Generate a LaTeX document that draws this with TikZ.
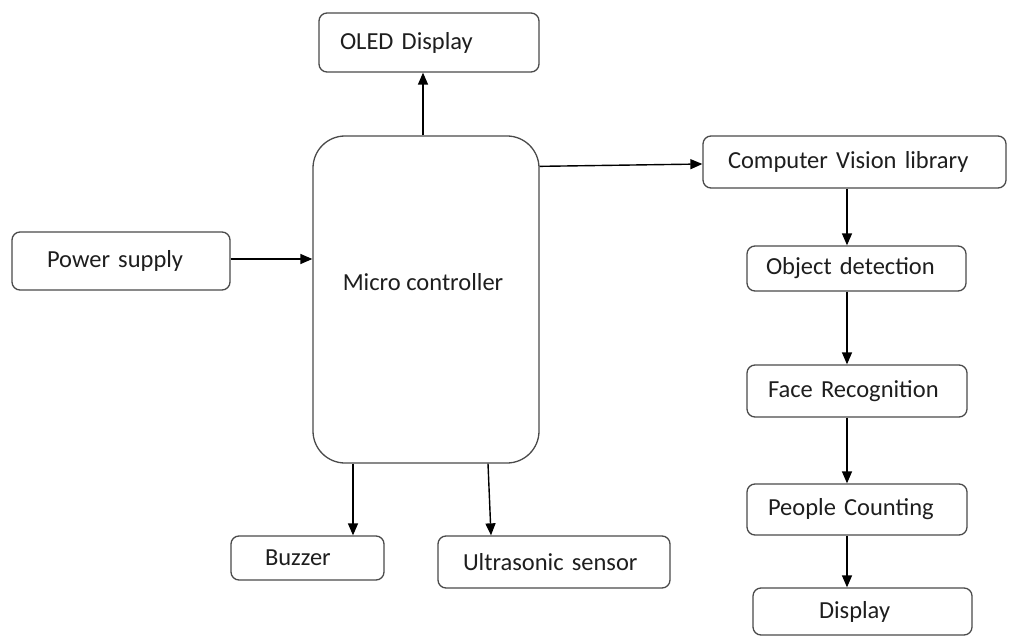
\documentclass[tikz,border=0pt]{standalone}
\usepackage{fontspec}
\setmainfont{Carlito}
\usetikzlibrary{arrows.meta}
\definecolor{boxline}{HTML}{4A4A4A}
\definecolor{txt}{HTML}{1E1E1E}
\begin{document}
\begin{tikzpicture}[x=1pt,y=-1pt,
  box/.style={draw=boxline, line width=1.3pt, rounded corners=8pt, fill=white,
    text=txt, font=\fontsize{24.5}{28}\selectfont, align=left, inner ysep=0pt, anchor=center},
  arr/.style={draw=black, line width=1.4pt, -{Triangle[length=12pt,width=10pt]}}]
\useasboundingbox (0,0) rectangle (1011,636);
\fill[white] (0,0) rectangle (1011,636);
% boxes
\node[box, minimum height=59pt, text width=178pt, inner xsep=21pt] (oled) at (429,42.5) {OLED Display};
\node[box, minimum height=58pt, text width=148pt, inner xsep=35pt] (power) at (121,261) {Power supply};
\node[box, rounded corners=32pt, minimum width=226pt, minimum height=327pt, inner sep=0pt,
  label={[text=txt, font=\fontsize{24.5}{28}\selectfont, xshift=-3pt, yshift=17pt]center:Micro controller}] (micro) at (426,299.5) {};
\node[box, minimum height=52pt, text width=253pt, inner xsep=25pt] (cv) at (854.5,162) {Computer Vision library};
\node[box, minimum height=45pt, text width=181pt, inner xsep=19pt] (od) at (856.5,268.5) {Object detection};
\node[box, minimum height=52pt, text width=178pt, inner xsep=21pt] (fr) at (857,391) {Face Recognition};
\node[box, minimum height=51pt, text width=178pt, inner xsep=21pt] (pc) at (857,509.5) {People Counting};
\node[box, minimum height=47pt, text width=87pt, inner xsep=66pt] (disp) at (862.5,611.5) {Display};
\node[box, minimum height=44pt, text width=85pt, inner xsep=34pt] (buzzer) at (307.5,558) {Buzzer};
\node[box, minimum height=52pt, text width=182pt, inner xsep=25pt] (ultra) at (554,562) {Ultrasonic sensor};
% column coordinates
\coordinate (colx) at (847,0);
\coordinate (bx) at (353,0);
% connectors
\draw[arr] ([xshift=-3pt]micro.north) -- ([xshift=-3pt]micro.north |- oled.south);
\draw[arr] ([yshift=2pt]power.east) -- ([yshift=2pt]power.east -| micro.west);
\draw[arr] ([yshift=-31pt]micro.north east) -- ([yshift=-2pt]cv.west);
\draw[arr] (cv.south -| colx) -- (od.north -| colx);
\draw[arr] (od.south -| colx) -- (fr.north -| colx);
\draw[arr] (fr.south -| colx) -- (pc.north -| colx);
\draw[arr] (pc.south -| colx) -- (disp.north -| colx);
\draw[arr] (micro.south -| bx) -- (buzzer.north -| bx);
\draw[arr] ([xshift=62pt]micro.south) -- ([xshift=-63pt]ultra.north);
\end{tikzpicture}
\end{document}
